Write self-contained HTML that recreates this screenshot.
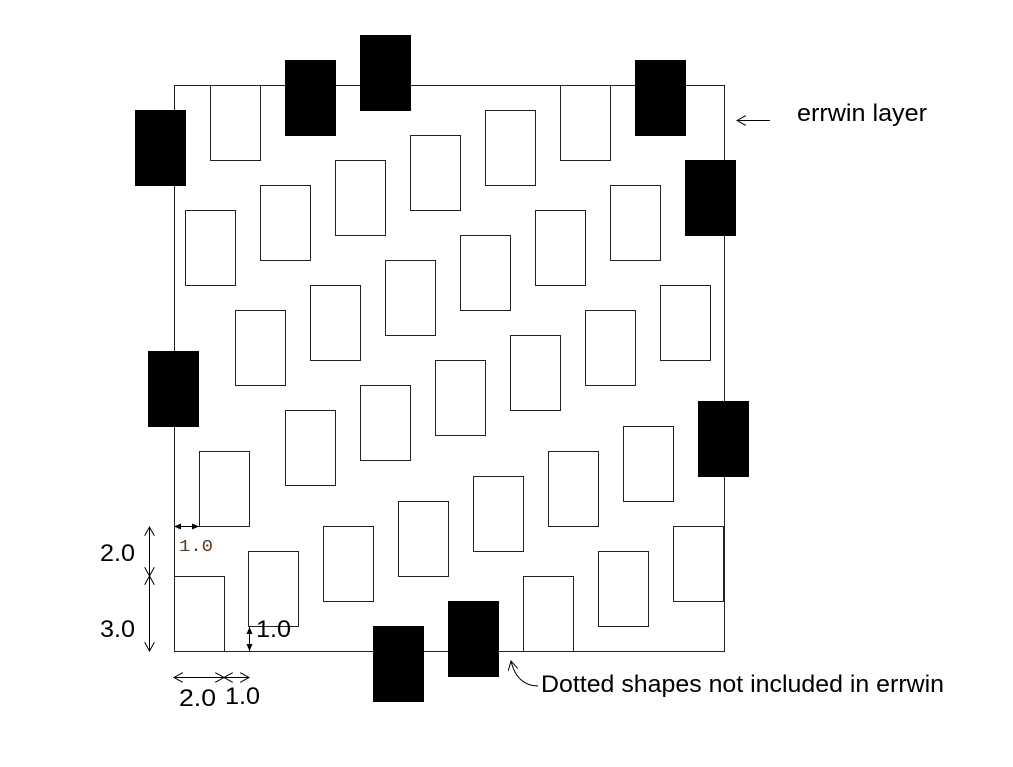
<!DOCTYPE html>
<html><head><style>body{margin:0;background:#fff}svg{display:block}</style></head><body>
<svg width="1013" height="767" viewBox="0 0 1013 767" xmlns="http://www.w3.org/2000/svg" font-family="Liberation Sans, sans-serif">
<defs>
<marker id="o" markerWidth="10" markerHeight="10" refX="9" refY="5" orient="auto-start-reverse" markerUnits="userSpaceOnUse"><path d="M0,0 L9,5 L0,10" fill="none" stroke="#000" stroke-width="1"/></marker>
<marker id="f" markerWidth="8" markerHeight="8" refX="7" refY="4" orient="auto-start-reverse" markerUnits="userSpaceOnUse"><path d="M0,1 L7,4 L0,7 z" fill="#000"/></marker>
</defs>
<g fill="none" stroke="#222" stroke-width="1">
<rect x="174.5" y="85.5" width="550" height="566"/>
<g>
<rect x="210.5" y="85.5" width="50" height="75"/>
<rect x="560.5" y="85.5" width="50" height="75"/>
<rect x="485.5" y="110.5" width="50" height="75"/>
<rect x="410.5" y="135.5" width="50" height="75"/>
<rect x="335.5" y="160.5" width="50" height="75"/>
<rect x="260.5" y="185.5" width="50" height="75"/>
<rect x="185.5" y="210.5" width="50" height="75"/>
<rect x="610.5" y="185.5" width="50" height="75"/>
<rect x="535.5" y="210.5" width="50" height="75"/>
<rect x="460.5" y="235.5" width="50" height="75"/>
<rect x="385.5" y="260.5" width="50" height="75"/>
<rect x="310.5" y="285.5" width="50" height="75"/>
<rect x="235.5" y="310.5" width="50" height="75"/>
<rect x="660.5" y="285.5" width="50" height="75"/>
<rect x="585.5" y="310.5" width="50" height="75"/>
<rect x="510.5" y="335.5" width="50" height="75"/>
<rect x="435.5" y="360.5" width="50" height="75"/>
<rect x="360.5" y="385.5" width="50" height="75"/>
<rect x="285.5" y="410.5" width="50" height="75"/>
<rect x="199.5" y="451.5" width="50" height="75"/>
<rect x="623.5" y="426.5" width="50" height="75"/>
<rect x="548.5" y="451.5" width="50" height="75"/>
<rect x="473.5" y="476.5" width="50" height="75"/>
<rect x="398.5" y="501.5" width="50" height="75"/>
<rect x="323.5" y="526.5" width="50" height="75"/>
<rect x="248.5" y="551.5" width="50" height="75"/>
<rect x="174.5" y="576.5" width="50" height="75"/>
<rect x="673.5" y="526.5" width="50" height="75"/>
<rect x="598.5" y="551.5" width="50" height="75"/>
<rect x="523.5" y="576.5" width="50" height="75"/>
</g>
</g>
<g fill="#000">
<rect x="135" y="110" width="51" height="76"/>
<rect x="285" y="60" width="51" height="76"/>
<rect x="360" y="35" width="51" height="76"/>
<rect x="635" y="60" width="51" height="76"/>
<rect x="685" y="160" width="51" height="76"/>
<rect x="148" y="351" width="51" height="76"/>
<rect x="698" y="401" width="51" height="76"/>
<rect x="373" y="626" width="51" height="76"/>
<rect x="448" y="601" width="51" height="76"/>
</g>
<g stroke="#000" stroke-width="1" fill="none">
<line x1="149.5" y1="527" x2="149.5" y2="576" marker-start="url(#o)" marker-end="url(#o)"/>
<line x1="149.5" y1="576" x2="149.5" y2="651" marker-start="url(#o)" marker-end="url(#o)"/>
<line x1="174" y1="526.5" x2="199" y2="526.5" marker-start="url(#f)" marker-end="url(#f)"/>
<line x1="249.5" y1="627" x2="249.5" y2="651" marker-start="url(#f)" marker-end="url(#f)"/>
<line x1="174" y1="677.5" x2="224" y2="677.5" marker-start="url(#o)" marker-end="url(#o)"/>
<line x1="224" y1="677.5" x2="249" y2="677.5" marker-start="url(#o)" marker-end="url(#o)"/>
<line x1="770" y1="120.5" x2="737" y2="120.5" marker-end="url(#o)"/>
<path d="M538,686 C525,686 515,678 511,661" marker-end="url(#o)"/>
</g>
<g font-size="24" fill="#000">
<text x="100" y="561" textLength="35" lengthAdjust="spacingAndGlyphs">2.0</text>
<text x="100" y="637" textLength="35" lengthAdjust="spacingAndGlyphs">3.0</text>
<text x="256" y="637" textLength="35" lengthAdjust="spacingAndGlyphs">1.0</text>
<text x="179" y="706" textLength="37" lengthAdjust="spacingAndGlyphs">2.0</text>
<text x="225" y="704" textLength="35" lengthAdjust="spacingAndGlyphs">1.0</text>
<text x="797" y="121" textLength="130" lengthAdjust="spacingAndGlyphs">errwin layer</text>
<text x="541" y="692" textLength="403" lengthAdjust="spacingAndGlyphs">Dotted shapes not included in errwin</text>
</g>
<text x="179" y="551" font-family="Liberation Mono, monospace" font-size="17" fill="#5a3a20" textLength="34" lengthAdjust="spacingAndGlyphs">1.0</text>
</svg>
</body></html>
